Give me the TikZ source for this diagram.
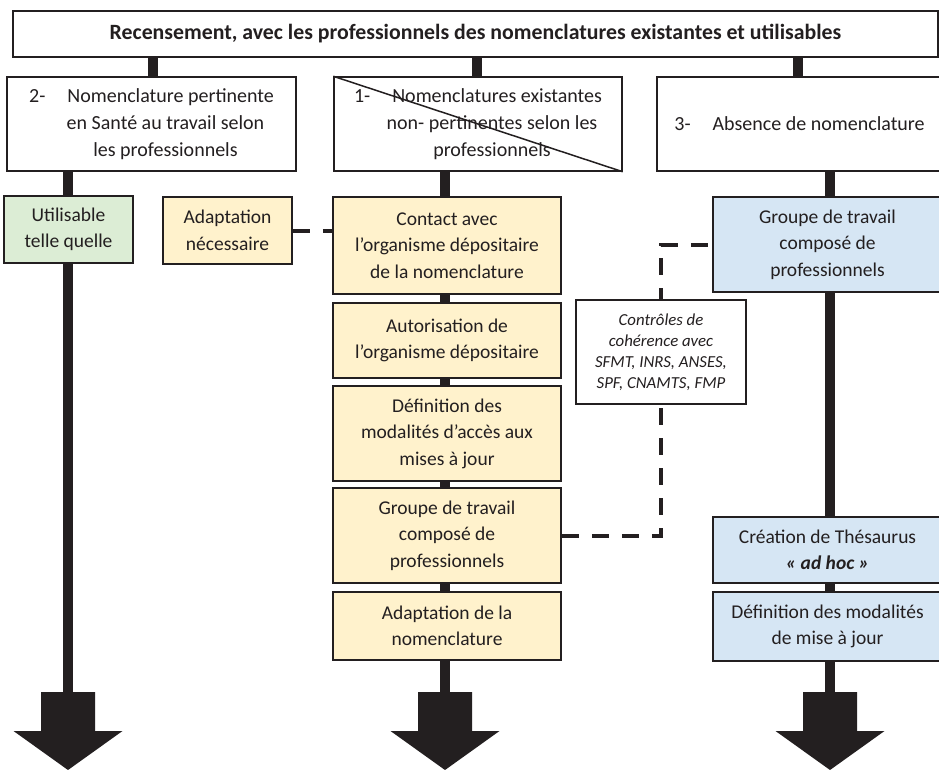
\documentclass[tikz,border=0pt]{standalone}
\usepackage{fontspec}
\setmainfont{Carlito}
\definecolor{ink}{HTML}{231F20}
\definecolor{yel}{HTML}{FFF2CC}
\definecolor{grn}{HTML}{DCEDD5}
\definecolor{blu}{HTML}{D6E6F4}
\tikzset{
  box/.style={draw=ink, line width=1.5pt, inner sep=0pt, align=center, text=ink,
    font=\fontsize{19.5}{26.5}\selectfont},
  toprow/.style={fill=white, font=\fontsize{20}{27}\selectfont},
  bar/.style={draw=ink, line width=10pt},
  dashline/.style={draw=ink, line width=4pt, dash pattern=on 17pt off 13pt},
  bigarrow/.pic={\fill[ink] (-27,0) -- (27,0) -- (27,39) -- (54.5,39) -- (0,78) -- (-54.5,39) -- (-27,39) -- cycle;}
}
% node from corners: #1 name, #2 x1, #3 y1, #4 x2, #5 y2
\newcommand{\bx}[7]{\node[box,#6, minimum width={#4-#2}, minimum height={#5-#3}] (#1) at ({(#2+#4)/2},{(#3+#5)/2}) {#7};}
\newcommand{\ind}{\hspace*{28pt}}
\begin{document}
\begin{tikzpicture}[x=1pt,y=-1pt]
\useasboundingbox (0,0) rectangle (939,770);
\fill[white] (0,0) rectangle (939,770);
% bar x positions
\coordinate (c2) at (153,0);
\coordinate (c1) at (477,0);
\coordinate (c3) at (798,0);
\coordinate (d2) at (68,692);
\coordinate (d1) at (445,692);
\coordinate (d3) at (830,692);

\bx{title}{13}{11}{938}{57}{fill=white, font=\fontsize{21.8}{25}\selectfont\bfseries}{Recensement, avec les professionnels des nomenclatures existantes et utilisables}
\bx{t2}{7}{77}{296}{171}{toprow}{2-\hspace{22pt}Nomenclature pertinente\\\ind en Santé au travail selon\\\ind les professionnels}
\bx{t1}{334}{77}{622}{171}{toprow}{1-\hspace{22pt}Nomenclatures existantes\\\ind non- pertinentes selon les\\\ind professionnels}
\bx{t3}{657}{77}{942}{171}{toprow}{3-\hspace{22pt}Absence de nomenclature}

% bars from title
\draw[bar] (title.south -| c2) -- (t2.north -| c2);
\draw[bar] (title.south -| c1) -- (t1.north -| c1);
\draw[bar] (title.south -| c3) -- (t3.north -| c3);
% diagonal in box 1
\draw[ink, line width=1.5pt] (t1.north west) -- (t1.south east);

% long bars
\draw[bar] (t2.south -| d2) -- (d2);
\draw[bar] (t1.south -| d1) -- (d1);
\draw[bar] (t3.south -| d3) -- (d3);

% dashed connectors (drawn under boxes)
\coordinate (k) at (661,0);
\bx{adapt}{163}{197}{292}{264}{fill=yel}{Adaptation\\nécessaire}
\bx{contact}{333}{197}{561}{294}{fill=yel}{Contact avec\\l’organisme dépositaire\\de la nomenclature}
\bx{grpY}{333}{488}{561}{583}{fill=yel}{Groupe de travail\\composé de\\professionnels}
\bx{grpB}{713}{197}{942}{292}{fill=blu}{Groupe de travail\\composé de\\professionnels}
\draw[dashline] (adapt.east) -- (contact.west |- adapt.east);
\draw[dashline] (grpY.east) -- (grpY.east -| k) -- (grpB.west -| k) -- (grpB.west);

\bx{util}{4}{196}{133}{263}{fill=grn}{Utilisable\\telle quelle}
\bx{autor}{333}{303}{561}{378}{fill=yel}{Autorisation de\\l’organisme dépositaire}
\bx{defin}{333}{386}{561}{481}{fill=yel}{Définition des\\modalités d’accès aux\\mises à jour}
\bx{adapN}{333}{592}{561}{660}{fill=yel}{Adaptation de la\\nomenclature}
\bx{ctrl}{576}{300}{746}{404}{fill=white, font=\fontsize{16.8}{21}\selectfont\itshape}{Contrôles de\\cohérence avec\\SFMT, INRS, ANSES,\\SPF, CNAMTS, FMP}
\bx{creat}{713}{517}{942}{583}{fill=blu}{Création de Thésaurus\\{\bfseries\itshape « ad hoc »}}
\bx{definB}{713}{592}{942}{661}{fill=blu}{Définition des modalités\\de mise à jour}

% arrow heads
\pic at (d2) {bigarrow};
\pic at (d1) {bigarrow};
\pic at (d3) {bigarrow};
\end{tikzpicture}
\end{document}
